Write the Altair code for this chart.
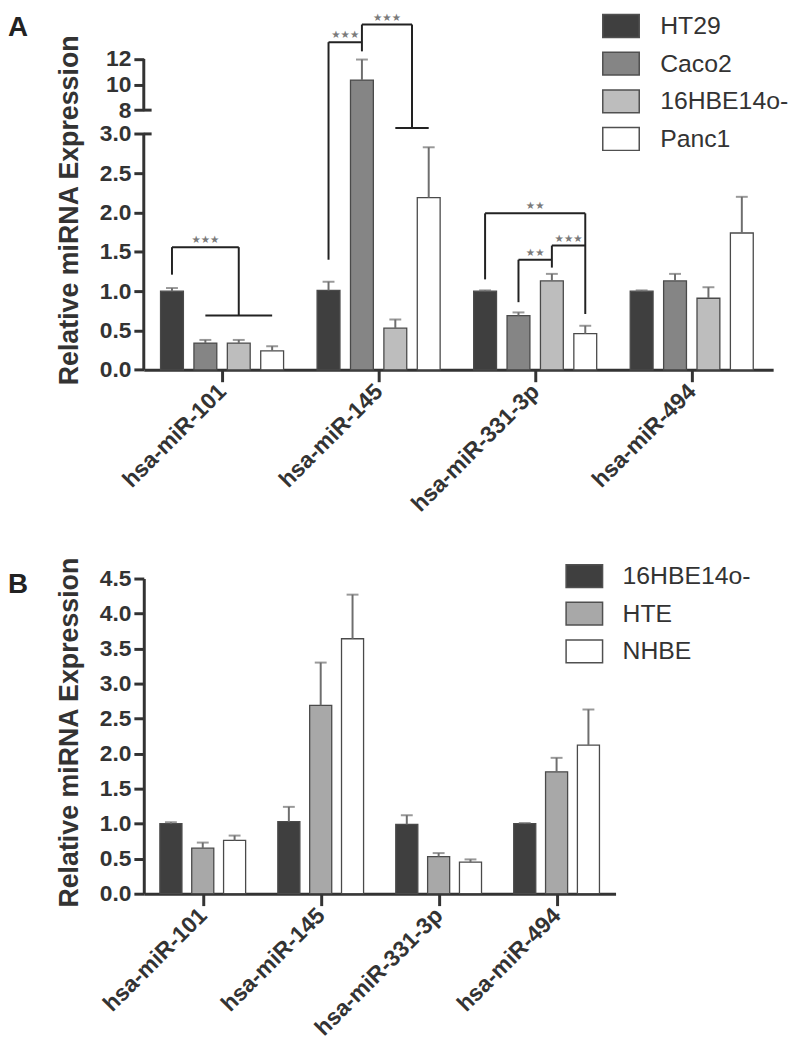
import json
import altair as alt
import pandas as pd

# ---------------- data ----------------
MIRNAS = ["hsa-miR-101", "hsa-miR-145", "hsa-miR-331-3p", "hsa-miR-494"]

# Panel A
A_LINES = ["HT29", "Caco2", "16HBE14o-", "Panc1"]
A_HT29 = [1.00, 1.01, 1.00, 1.00]
A_HT29_SEM = [0.04, 0.11, 0.01, 0.01]
A_CACO2 = [0.34, 10.35, 0.69, 1.13]
A_CACO2_SEM = [0.04, 1.61, 0.04, 0.09]
A_16HBE = [0.34, 0.53, 1.13, 0.91]
A_16HBE_SEM = [0.04, 0.11, 0.09, 0.14]
A_PANC1 = [0.24, 2.19, 0.46, 1.74]
A_PANC1_SEM = [0.06, 0.64, 0.10, 0.46]

# Panel B
B_LINES = ["16HBE14o-", "HTE", "NHBE"]
B_16HBE = [1.00, 1.03, 0.99, 1.00]
B_16HBE_SEM = [0.02, 0.21, 0.13, 0.01]
B_HTE = [0.65, 2.69, 0.53, 1.74]
B_HTE_SEM = [0.08, 0.61, 0.05, 0.20]
B_NHBE = [0.76, 3.64, 0.45, 2.12]
B_NHBE_SEM = [0.07, 0.63, 0.04, 0.51]

# significance brackets in panel A: polylines of (group, bar index, value)
A_SIG_PATHS = [
    [(0, 0, 1.21), (0, 0, 1.56), (0, 2, 1.56), (0, 2, 0.69)],
    [(0, 1, 0.69), (0, 3, 0.69)],
    [(1, 0, 1.40), (1, 0, 13.32), (1, 1, 13.32)],
    [(1, 1, 12.6), (1, 1, 14.7), (1, 2.5, 14.7), (1, 2.5, 4.22)],
    [(1, 2, 4.22), (1, 3, 4.22)],
    [(2, 0, 1.15), (2, 0, 1.99), (2, 3, 1.99), (2, 3, 0.71)],
    [(2, 1, 0.86), (2, 1, 1.40), (2, 2, 1.40)],
    [(2, 2, 1.30), (2, 2, 1.58), (2, 3, 1.58)],
]
A_SIG_LABELS = [
    (0, 1.0, 1.56, "★★★"),
    (1, 0.5, 13.32, "★★★"),
    (1, 1.75, 14.7, "★★★"),
    (2, 1.5, 1.99, "★★"),
    (2, 1.5, 1.40, "★★"),
    (2, 2.5, 1.58, "★★★"),
]
A_Y_TICKS = [0, 0.5, 1, 1.5, 2, 2.5, 3, 8, 10, 12]
A_Y_PIECES = [(0, 3), (8, 12)]
A_BREAKS = [3, 8]
B_Y_TICKS = [0, 0.5, 1, 1.5, 2, 2.5, 3, 3.5, 4, 4.5]

# ---------------- styles ----------------
FONT = "Liberation Sans, Arial, Helvetica, sans-serif"
AX = "#333333"
A_COLORS = ["#3f3f3f", "#858585", "#bdbdbd", "#ffffff"]
B_COLORS = ["#3f3f3f", "#a8a8a8", "#ffffff"]
A_PITCH, A_BARW = 0.2133, 0.146
B_PITCH, B_BARW = 0.27, 0.187
SERIF = 0.05
RECT_PATH = "M-1.6,-1H1.6V1H-1.6Z"


def bar_pos(g, i, pitch, center):
    return g + (i - center) * pitch


def bars_df(lines, means, sems, pitch, width):
    center = (len(lines) - 1) / 2
    rows = []
    for si, (name, m, s) in enumerate(zip(lines, means, sems)):
        for g, (mv, sv) in enumerate(zip(m, s)):
            p = bar_pos(g, si, pitch, center)
            rows.append(dict(line=name, mirna=MIRNAS[g], pos=p, x0=p - width / 2,
                             x1=p + width / 2, mean=mv, top=mv + sv, zero=0.0))
    return pd.DataFrame(rows)


dfA = bars_df(A_LINES, [A_HT29, A_CACO2, A_16HBE, A_PANC1],
              [A_HT29_SEM, A_CACO2_SEM, A_16HBE_SEM, A_PANC1_SEM], A_PITCH, A_BARW)
dfB = bars_df(B_LINES, [B_16HBE, B_HTE, B_NHBE],
              [B_16HBE_SEM, B_HTE_SEM, B_NHBE_SEM], B_PITCH, B_BARW)

segs = []
for path in A_SIG_PATHS:
    for (g1, i1, v1), (g2, i2, v2) in zip(path[:-1], path[1:]):
        segs.append(dict(x=bar_pos(g1, i1, A_PITCH, 1.5), x2=bar_pos(g2, i2, A_PITCH, 1.5), y=v1, y2=v2))
sigA = pd.DataFrame(segs)
starsA = pd.DataFrame([dict(x=bar_pos(g, i, A_PITCH, 1.5), y=v, label=t) for g, i, v, t in A_SIG_LABELS])

axis_segs = [dict(x=-0.5, x2=-0.5, y=a, y2=b) for a, b in A_Y_PIECES]
axis_segs += [dict(x=-0.5, x2=-0.5 + SERIF, y=v, y2=v) for v in A_BREAKS]
axisA = pd.DataFrame(axis_segs)

label_expr = json.dumps(MIRNAS) + "[datum.value]"


def x_axis():
    return alt.Axis(values=[0, 1, 2, 3], labelExpr=label_expr, title=None, grid=False,
                    labelAngle=-45, labelAlign="right", labelBaseline="middle",
                    labelFont=FONT, labelFontSize=23, labelFontWeight="bold", labelColor=AX,
                    labelPadding=6, labelOverlap=False, labelFlush=False,
                    tickSize=12, tickWidth=3, tickColor=AX,
                    domainWidth=3, domainColor=AX)


def y_axis(values, expr, domain, title_y):
    return alt.Axis(values=values, labelExpr=expr, title="Relative miRNA Expression",
                    grid=False, domain=domain, domainWidth=3, domainColor=AX,
                    labelFont=FONT, labelFontSize=23, labelFontWeight="bold", labelColor=AX,
                    labelPadding=3, tickSize=10, tickWidth=3, tickColor=AX,
                    titleFont=FONT, titleFontSize=27, titleFontWeight="bold", titleColor=AX,
                    titleX=-67, titleY=title_y, titleBaseline="alphabetic", labelOverlap=False)


def legend(x, y, offset):
    return alt.Legend(orient="none", legendX=x, legendY=y, title=None, symbolType=RECT_PATH,
                      symbolSize=529, symbolStrokeColor="#505050", symbolStrokeWidth=1.5,
                      symbolOpacity=1, labelFont=FONT, labelFontSize=25, labelColor=AX,
                      labelOffset=offset, rowPadding=9, padding=0)


def panel(df, lines, colors, xdom, width, height, yscale, yaxis, leg, letter, letter_y, extra):
    xs = alt.Scale(domain=xdom, nice=False, zero=False)
    xa = x_axis()
    bars = alt.Chart(df).mark_rect(stroke="#4a4a4a", strokeWidth=1.3).encode(
        x=alt.X("x0:Q", scale=xs, axis=xa),
        x2="x1:Q",
        y=alt.Y("mean:Q", scale=yscale, axis=yaxis),
        y2="zero:Q",
        fill=alt.Fill("line:N", scale=alt.Scale(domain=lines, range=colors), legend=leg, sort=lines),
    )
    err = alt.Chart(df).mark_rule(color="#6e6e6e", strokeWidth=2).encode(
        x=alt.X("pos:Q", scale=xs, axis=xa),
        y=alt.Y("mean:Q", scale=yscale, axis=yaxis),
        y2="top:Q",
    )
    cap = alt.Chart(df).mark_tick(color="#6e6e6e", thickness=2, size=12, orient="horizontal").encode(
        x=alt.X("pos:Q", scale=xs, axis=xa),
        y=alt.Y("top:Q", scale=yscale, axis=yaxis),
    )
    lab = alt.Chart(pd.DataFrame({"t": [letter]})).mark_text(
        align="left", baseline="alphabetic", fontSize=28, fontWeight="bold", font=FONT, color="#222"
    ).encode(x=alt.value(-137), y=alt.value(letter_y), text="t:N")
    layers = [bars, err, cap] + [e(xs, yscale, xa, yaxis) for e in extra] + [lab]
    return alt.layer(*layers).properties(width=width, height=height)


def sig_rules(xs, ys, xa, ya):
    return alt.Chart(sigA).mark_rule(color="#222", strokeWidth=2).encode(
        x=alt.X("x:Q", scale=xs, axis=xa), x2="x2:Q",
        y=alt.Y("y:Q", scale=ys, axis=ya), y2="y2:Q")


def sig_stars(xs, ys, xa, ya):
    return alt.Chart(starsA).mark_text(color="#7a7a7a", fontSize=10.5, font="DejaVu Sans",
                                       baseline="middle", dy=-7).encode(
        x=alt.X("x:Q", scale=xs, axis=xa),
        y=alt.Y("y:Q", scale=ys, axis=ya), text="label:N")


def axis_break(xs, ys, xa, ya):
    return alt.Chart(axisA).mark_rule(color=AX, strokeWidth=3).encode(
        x=alt.X("x:Q", scale=xs, axis=xa), x2="x2:Q",
        y=alt.Y("y:Q", scale=ys, axis=ya), y2="y2:Q")


yA = alt.Scale(domain=[0, 3, 8, 15.09], range=[353.4, 115.4, 91.4, 0], nice=False, zero=False)
yB = alt.Scale(domain=[0, 4.5], nice=False, zero=True)

exprA = "datum.value >= 8 ? format(datum.value, 'd') : format(datum.value, '.1f')"
exprB = "format(datum.value, '.1f')"

panelA = panel(dfA, A_LINES, A_COLORS, [-0.5, 3.52], 635, 353.4, yA,
               y_axis(A_Y_TICKS, exprA, False, 192), legend(469, -6, 27), "A", 17,
               [axis_break, sig_rules, sig_stars])
panelB = panel(dfB, B_LINES, B_COLORS, [-0.5, 3.5], 476, 318, yB,
               y_axis(B_Y_TICKS, exprB, True, 155), legend(432, -15, 26), "B", 15, [])

chart = alt.vconcat(panelA, panelB, spacing=40).resolve_scale(
    x="independent", y="independent", fill="independent"
).resolve_legend(fill="independent").properties(padding=0, background="white").configure_view(stroke=None)

chart.save("out.html", embed_options={"renderer": "svg", "actions": False})
